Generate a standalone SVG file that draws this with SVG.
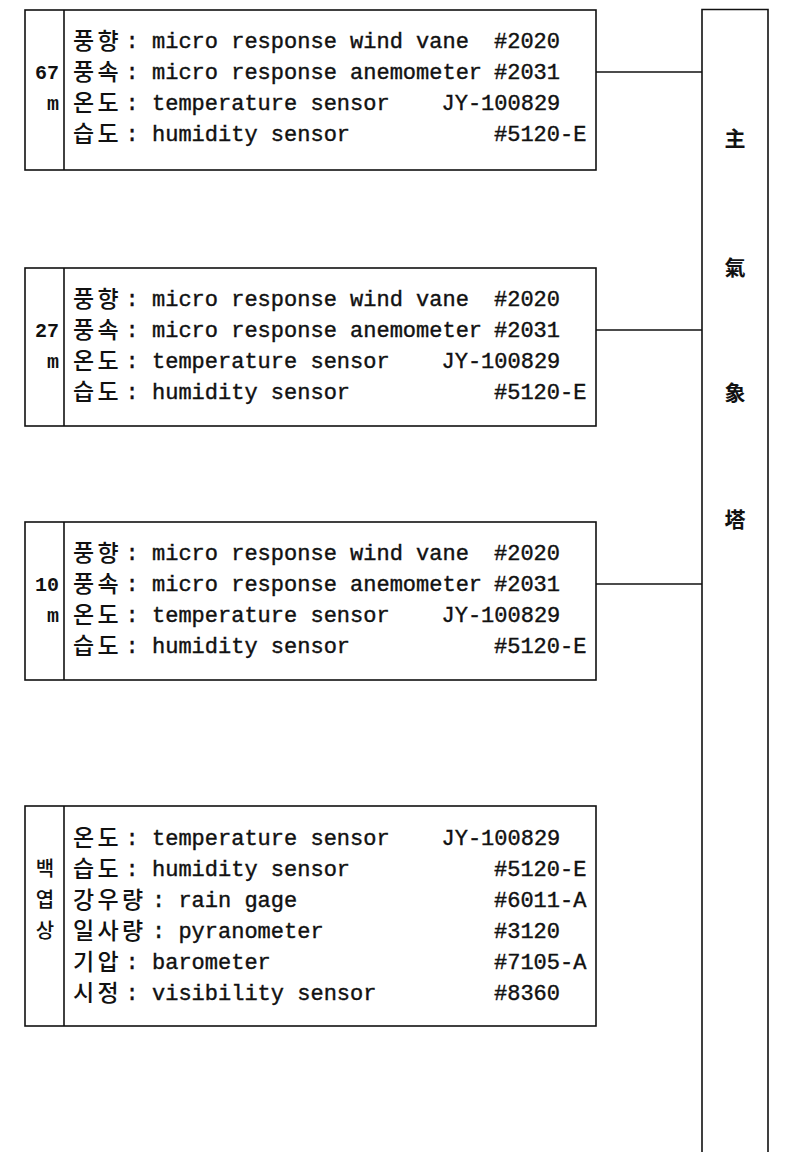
<svg xmlns="http://www.w3.org/2000/svg" width="799" height="1152" viewBox="0 0 799 1152">
<style>
.bx{fill:none;stroke:#111;stroke-width:1.6}
.ln{stroke:#111;stroke-width:1.6;fill:none}
.m{font-family:"Liberation Mono","DejaVu Sans Mono",monospace;font-size:22px;fill:#111;stroke:#111;stroke-width:0.4;white-space:pre}
.k{font-family:"Noto Sans CJK KR","Noto Sans CJK SC",sans-serif;font-size:23px;letter-spacing:3.3px;fill:#111;font-weight:500}
.lb{font-family:"Liberation Mono","DejaVu Sans Mono",monospace;font-size:20px;font-weight:bold;fill:#111;text-anchor:end}
.lk{font-family:"Noto Sans CJK KR",sans-serif;font-size:20px;fill:#111;text-anchor:middle;font-weight:500}
.t{font-family:"Noto Sans CJK KR","Noto Sans CJK TC",sans-serif;font-size:21px;font-weight:bold;fill:#111;text-anchor:middle}
</style>
<rect width="799" height="1152" fill="#fff"/>
<g id="connectors">
<line class="ln" x1="596" y1="72" x2="702" y2="72"/>
<line class="ln" x1="596" y1="330" x2="702" y2="330"/>
<line class="ln" x1="596" y1="584" x2="702" y2="584"/>
</g>
<g id="tower">
<path class="ln" d="M702,1152 V9.5 H768 V1152"/>
<text class="t" x="735" y="146">主</text>
<text class="t" x="735" y="275">氣</text>
<text class="t" x="735" y="400">象</text>
<text class="t" x="735" y="527">塔</text>
</g>
<g id="box67">
<rect class="bx" x="25" y="10" width="571" height="160"/>
<line class="ln" x1="64" y1="10" x2="64" y2="170"/>
<text class="lb" x="59" y="79">67</text>
<text class="lb" x="59" y="110">m</text>
<text class="k" x="73" y="49">풍향</text><text class="m" x="125.6" y="48">: micro response wind vane</text><text class="m" x="494" y="48">#2020</text>
<text class="k" x="73" y="80">풍속</text><text class="m" x="125.6" y="79">: micro response anemometer</text><text class="m" x="494" y="79">#2031</text>
<text class="k" x="73" y="111">온도</text><text class="m" x="125.6" y="110">: temperature sensor</text><text class="m" x="441.5" y="110">JY-100829</text>
<text class="k" x="73" y="142">습도</text><text class="m" x="125.6" y="141">: humidity sensor</text><text class="m" x="494" y="141">#5120-E</text>
</g>
<g id="box27">
<rect class="bx" x="25" y="268" width="571" height="158"/>
<line class="ln" x1="64" y1="268" x2="64" y2="426"/>
<text class="lb" x="59" y="337">27</text>
<text class="lb" x="59" y="368">m</text>
<text class="k" x="73" y="307">풍향</text><text class="m" x="125.6" y="306">: micro response wind vane</text><text class="m" x="494" y="306">#2020</text>
<text class="k" x="73" y="338">풍속</text><text class="m" x="125.6" y="337">: micro response anemometer</text><text class="m" x="494" y="337">#2031</text>
<text class="k" x="73" y="369">온도</text><text class="m" x="125.6" y="368">: temperature sensor</text><text class="m" x="441.5" y="368">JY-100829</text>
<text class="k" x="73" y="400">습도</text><text class="m" x="125.6" y="399">: humidity sensor</text><text class="m" x="494" y="399">#5120-E</text>
</g>
<g id="box10">
<rect class="bx" x="25" y="522" width="571" height="158"/>
<line class="ln" x1="64" y1="522" x2="64" y2="680"/>
<text class="lb" x="59" y="591">10</text>
<text class="lb" x="59" y="622">m</text>
<text class="k" x="73" y="561">풍향</text><text class="m" x="125.6" y="560">: micro response wind vane</text><text class="m" x="494" y="560">#2020</text>
<text class="k" x="73" y="592">풍속</text><text class="m" x="125.6" y="591">: micro response anemometer</text><text class="m" x="494" y="591">#2031</text>
<text class="k" x="73" y="623">온도</text><text class="m" x="125.6" y="622">: temperature sensor</text><text class="m" x="441.5" y="622">JY-100829</text>
<text class="k" x="73" y="654">습도</text><text class="m" x="125.6" y="653">: humidity sensor</text><text class="m" x="494" y="653">#5120-E</text>
</g>
<g id="box-shelter">
<rect class="bx" x="25" y="806" width="571" height="220"/>
<line class="ln" x1="64" y1="806" x2="64" y2="1026"/>
<text class="lk" x="45" y="876">백</text>
<text class="lk" x="45" y="907">엽</text>
<text class="lk" x="45" y="938">상</text>
<text class="k" x="73" y="846">온도</text><text class="m" x="125.6" y="845">: temperature sensor</text><text class="m" x="441.5" y="845">JY-100829</text>
<text class="k" x="73" y="877">습도</text><text class="m" x="125.6" y="876">: humidity sensor</text><text class="m" x="494" y="876">#5120-E</text>
<text class="k" x="73" y="908">강우량</text><text class="m" x="152" y="907">: rain gage</text><text class="m" x="494" y="907">#6011-A</text>
<text class="k" x="73" y="939">일사량</text><text class="m" x="152" y="938">: pyranometer</text><text class="m" x="494" y="938">#3120</text>
<text class="k" x="73" y="970">기압</text><text class="m" x="125.6" y="969">: barometer</text><text class="m" x="494" y="969">#7105-A</text>
<text class="k" x="73" y="1001">시정</text><text class="m" x="125.6" y="1000">: visibility sensor</text><text class="m" x="494" y="1000">#8360</text>
</g>
</svg>
